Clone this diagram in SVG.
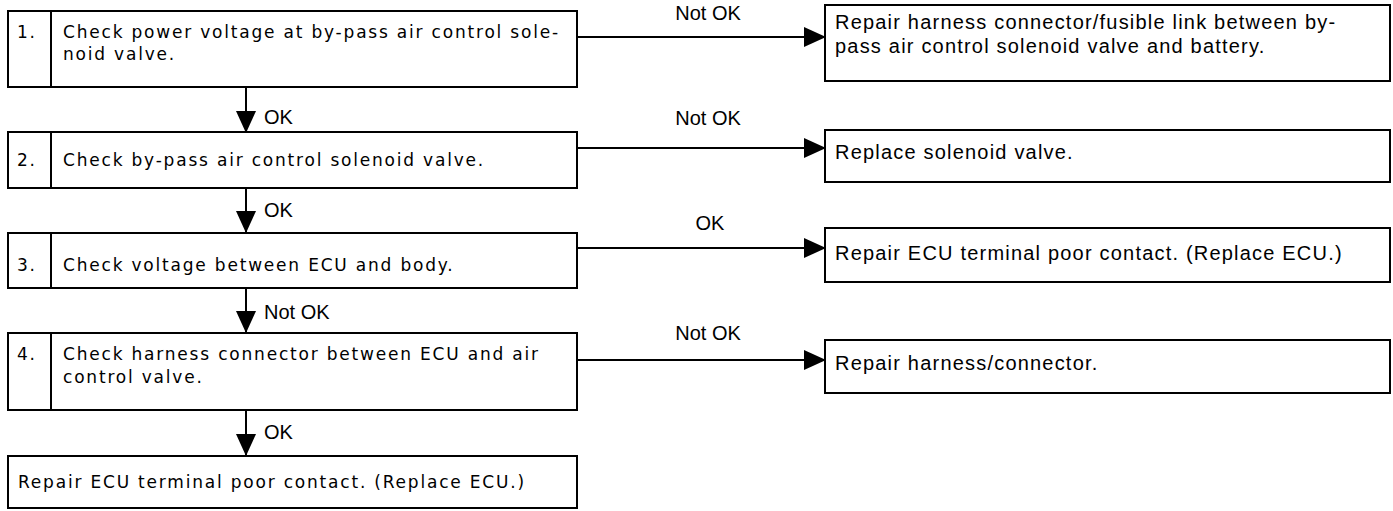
<svg xmlns="http://www.w3.org/2000/svg" width="1393" height="511" viewBox="0 0 1393 511">
<defs>
<style>
.box{fill:#fff;stroke:#000;stroke-width:2}
.div{stroke:#000;stroke-width:2}
.ln{stroke:#000;stroke-width:2;fill:none}
.lt{font-family:"DejaVu Sans",sans-serif;font-size:17px;letter-spacing:1.8px;fill:#000}
.rt{font-family:"Liberation Sans",Arial,sans-serif;font-size:20px;letter-spacing:1.2px;fill:#000}
.lb{font-family:"Liberation Sans",Arial,sans-serif;font-size:20px;fill:#000}
</style>
<marker id="ah" markerWidth="22" markerHeight="20" refX="21" refY="10" orient="auto" markerUnits="userSpaceOnUse">
<path d="M0,0 L22,10 L0,20 Z" fill="#000"/>
</marker>
</defs>
<rect width="1393" height="511" fill="#fff"/>
<g id="connectors">
<line class="ln" x1="246" y1="87" x2="246" y2="132" marker-end="url(#ah)"/>
<line class="ln" x1="246" y1="188" x2="246" y2="232" marker-end="url(#ah)"/>
<line class="ln" x1="246" y1="288" x2="246" y2="332" marker-end="url(#ah)"/>
<line class="ln" x1="246" y1="410" x2="246" y2="455" marker-end="url(#ah)"/>
<line class="ln" x1="578" y1="37" x2="825" y2="37" marker-end="url(#ah)"/>
<line class="ln" x1="578" y1="148" x2="825" y2="148" marker-end="url(#ah)"/>
<line class="ln" x1="578" y1="248" x2="825" y2="248" marker-end="url(#ah)"/>
<line class="ln" x1="578" y1="360" x2="825" y2="360" marker-end="url(#ah)"/>
<text class="lb" x="264" y="124">OK</text>
<text class="lb" x="264" y="217">OK</text>
<text class="lb" x="264" y="319">Not OK</text>
<text class="lb" x="264" y="439">OK</text>
<text class="lb" x="708" y="20" text-anchor="middle">Not OK</text>
<text class="lb" x="708" y="125" text-anchor="middle">Not OK</text>
<text class="lb" x="710" y="230" text-anchor="middle">OK</text>
<text class="lb" x="708" y="340" text-anchor="middle">Not OK</text>
</g>
<g id="step1">
<rect class="box" x="8" y="11" width="569" height="76"/>
<line class="div" x1="51" y1="11" x2="51" y2="87"/>
<text class="lt" x="17" y="38">1.</text>
<text class="lt" x="63" y="38">Check power voltage at by-pass air control sole-</text>
<text class="lt" x="63" y="60">noid valve.</text>
</g>
<g id="step2">
<rect class="box" x="8" y="132" width="569" height="56"/>
<line class="div" x1="51" y1="132" x2="51" y2="188"/>
<text class="lt" x="17" y="166">2.</text>
<text class="lt" x="63" y="166">Check by-pass air control solenoid valve.</text>
</g>
<g id="step3">
<rect class="box" x="8" y="233" width="569" height="55"/>
<line class="div" x1="51" y1="233" x2="51" y2="288"/>
<text class="lt" x="17" y="271">3.</text>
<text class="lt" x="63" y="271">Check voltage between ECU and body.</text>
</g>
<g id="step4">
<rect class="box" x="8" y="333" width="569" height="77"/>
<line class="div" x1="51" y1="333" x2="51" y2="410"/>
<text class="lt" x="17" y="360">4.</text>
<text class="lt" x="63" y="360">Check harness connector between ECU and air</text>
<text class="lt" x="63" y="383">control valve.</text>
</g>
<g id="final">
<rect class="box" x="8" y="456" width="569" height="52"/>
<text class="lt" x="18" y="488">Repair ECU terminal poor contact. (Replace ECU.)</text>
</g>
<g id="r1">
<rect class="box" x="825" y="5" width="565" height="76"/>
<text class="rt" x="835" y="29">Repair harness connector/fusible link between by-</text>
<text class="rt" x="835" y="53">pass air control solenoid valve and battery.</text>
</g>
<g id="r2">
<rect class="box" x="825" y="130" width="565" height="52"/>
<text class="rt" x="835" y="159">Replace solenoid valve.</text>
</g>
<g id="r3">
<rect class="box" x="825" y="228" width="565" height="54"/>
<text class="rt" x="835" y="260">Repair ECU terminal poor contact. (Replace ECU.)</text>
</g>
<g id="r4">
<rect class="box" x="825" y="340" width="565" height="53"/>
<text class="rt" x="835" y="370">Repair harness/connector.</text>
</g>
</svg>
